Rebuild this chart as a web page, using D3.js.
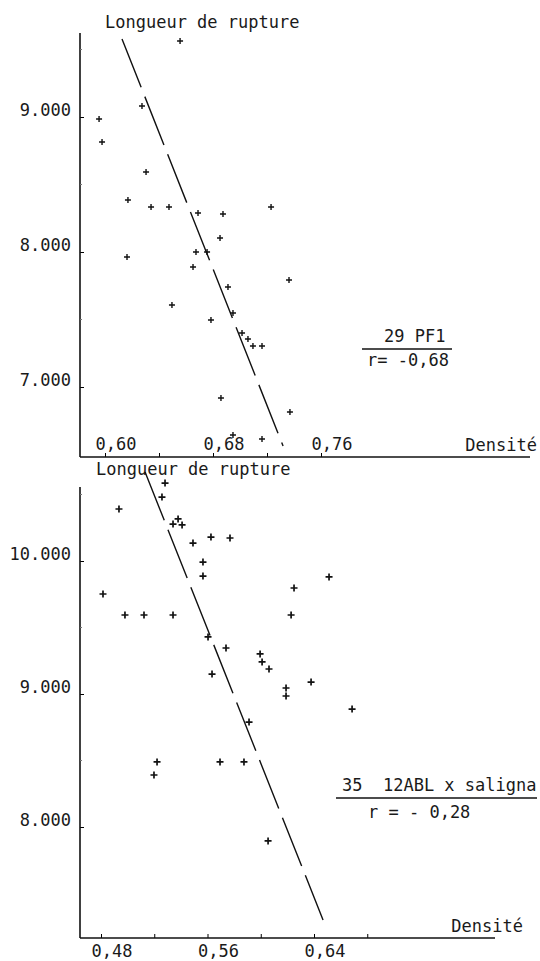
<!DOCTYPE html>
<html>
<head>
<meta charset="utf-8">
<script src="https://cdn.jsdelivr.net/npm/d3@7"></script>
<style>
  body { margin: 0; background: #fff; }
  svg text { font-family: "DejaVu Sans Mono", monospace; fill: #1a1a1a; font-size: 17px; }
</style>
</head>
<body>
<svg id="chart" width="540" height="961"></svg>
<script>
// panel 1 : 29 PF1
const densiteA = [0.6556, 0.6274, 0.5956, 0.5978, 0.6304, 0.6170, 0.6341, 0.6474, 0.6689, 0.6874,
  0.7230, 0.6852, 0.6163, 0.6674, 0.6756, 0.6652, 0.6911, 0.7363, 0.6496, 0.6948,
  0.6785, 0.7015, 0.7059, 0.7096, 0.7163, 0.6859, 0.7370, 0.7163, 0.6948];
const longueurA = [9563, 9081, 8985, 8815, 8593, 8385, 8333, 8333, 8289, 8281,
  8333, 8104, 7963, 8000, 8000, 7889, 7741, 7793, 7607, 7548,
  7496, 7400, 7356, 7304, 7304, 6919, 6815, 6615, 6644];
const droiteA = [[0.6126, 9578], [0.7319, 6563]];
const xTicksA = [0.60, 0.64, 0.68, 0.72, 0.76];
const xLabelsA = ["0,60", "", "0,68", "", "0,76"];
const yTicksA = [7000, 8000, 9000];
const yLabelsA = ["7.000", "8.000", "9.000"];

// panel 2 : 35 12ABL x saligna
const densiteB = [0.5281, 0.5258, 0.4935, 0.5341, 0.5379, 0.5409, 0.5491, 0.5626, 0.5769, 0.5566,
  0.5566, 0.4815, 0.4980, 0.5123, 0.5341, 0.5604, 0.5739, 0.5995, 0.6010, 0.6062,
  0.5634, 0.5912, 0.6513, 0.6250, 0.6228, 0.6378, 0.6190, 0.6190, 0.6686, 0.5694,
  0.5874, 0.6055, 0.5221, 0.5198];
const longueurB = [10586, 10481, 10391, 10278, 10316, 10271, 10135, 10180, 10173, 9992,
  9887, 9752, 9594, 9594, 9594, 9429, 9346, 9301, 9241, 9188,
  9150, 8789, 9880, 9797, 9594, 9090, 9045, 8985, 8887, 8489,
  8489, 7895, 8489, 8391];
const droiteB = [[0.5131, 10669], [0.6468, 7301]];
const xTicksB = [0.48, 0.52, 0.56, 0.60, 0.64, 0.68];
const xLabelsB = ["0,48", "", "0,56", "", "0,64", ""];
const yTicksB = [8000, 9000, 10000];
const yLabelsB = ["8.000", "9.000", "10.000"];

const svg = d3.select("#chart");

function drawPanel(cfg) {
  const x = d3.scaleLinear().domain(cfg.xDomain).range(cfg.xRange);
  const y = d3.scaleLinear().domain(cfg.yDomain).range(cfg.yRange);
  const g = svg.append("g");

  // y axis, ticks inside
  const yAxis = d3.axisRight(y)
      .tickValues(cfg.yTicks)
      .tickFormat("")
      .tickSize(4)
      .tickSizeOuter(0);
  g.append("g")
      .attr("transform", `translate(${cfg.axisX},0)`)
      .call(yAxis)
      .call(a => a.select(".domain").remove());
  g.append("line")
      .attr("x1", cfg.axisX).attr("x2", cfg.axisX)
      .attr("y1", cfg.yTop).attr("y2", cfg.axisY)
      .attr("stroke", "#111").attr("stroke-width", 1.6);
  // faint half ticks
  g.selectAll(".minor")
    .data(cfg.yTicks.map(d => d + 500))
    .join("line")
      .attr("x1", cfg.axisX).attr("x2", cfg.axisX + 2)
      .attr("y1", d => y(d)).attr("y2", d => y(d))
      .attr("stroke", "#777");
  g.selectAll(".ylab")
    .data(cfg.yTicks)
    .join("text")
      .attr("x", cfg.axisX - 9)
      .attr("y", d => y(d) - 1)
      .attr("text-anchor", "end")
      .text((d, i) => cfg.yLabels[i]);

  // x axis
  const xAxis = d3.axisTop(x)
      .tickValues(cfg.xTicks)
      .tickFormat("")
      .tickSize(4)
      .tickSizeOuter(0);
  g.append("g")
      .attr("transform", `translate(0,${cfg.axisY})`)
      .call(xAxis)
      .call(a => a.select(".domain").remove());
  g.append("line")
      .attr("x1", cfg.axisX).attr("x2", cfg.xEnd)
      .attr("y1", cfg.axisY).attr("y2", cfg.axisY)
      .attr("stroke", "#111").attr("stroke-width", 1.6);
  g.selectAll(".xlab")
    .data(cfg.xTicks)
    .join("text")
      .attr("x", d => x(d) + 11)
      .attr("y", cfg.axisY + cfg.xLabelDy)
      .attr("text-anchor", "middle")
      .text((d, i) => cfg.xLabels[i]);

  g.append("text")
      .attr("x", cfg.densiteX).attr("y", cfg.densiteY)
      .attr("text-anchor", "end")
      .text("Densité");

  g.append("text")
      .attr("x", cfg.titleX).attr("y", cfg.titleY)
      .text("Longueur de rupture");

  // regression line, long dashes
  g.append("path")
      .datum(cfg.droite)
      .attr("d", d3.line().x(d => x(d[0])).y(d => y(d[1])))
      .attr("fill", "none")
      .attr("stroke", "#111")
      .attr("stroke-width", 1.4)
      .attr("stroke-dasharray", "52,10");

  // points as "+"
  const s = cfg.cross;
  g.selectAll(".pt")
    .data(cfg.dens.map((d, i) => [d, cfg.long[i]]))
    .join("path")
      .attr("transform", d => `translate(${x(d[0])},${y(d[1])})`)
      .attr("d", `M${-s},0H${s}M0,${-s}V${s}`)
      .attr("stroke", "#111")
      .attr("stroke-width", cfg.crossW);

  return { x, y };
}

drawPanel({
  dens: densiteA, long: longueurA, droite: droiteA,
  xDomain: [0.60, 0.76], xRange: [105, 321],
  yDomain: [7000, 9000], yRange: [387, 117],
  xTicks: xTicksA, xLabels: xLabelsA, yTicks: yTicksA, yLabels: yLabelsA,
  axisX: 80, axisY: 457, yTop: 33, xEnd: 530, xLabelDy: -7,
  densiteX: 537, densiteY: 451, titleX: 105, titleY: 28,
  cross: 3, crossW: 1.4
});

drawPanel({
  dens: densiteB, long: longueurB, droite: droiteB,
  xDomain: [0.48, 0.64], xRange: [101, 314],
  yDomain: [8000, 10000], yRange: [827, 561],
  xTicks: xTicksB, xLabels: xLabelsB, yTicks: yTicksB, yLabels: yLabelsB,
  axisX: 80, axisY: 938, yTop: 487, xEnd: 495, xLabelDy: 19,
  densiteX: 523, densiteY: 932, titleX: 96, titleY: 475,
  cross: 3.5, crossW: 1.7
});

// annotations
const notes = svg.append("g");
notes.append("text").attr("x", 384).attr("y", 342).text("29 PF1");
notes.append("line").attr("x1", 362).attr("x2", 452).attr("y1", 349).attr("y2", 349)
    .attr("stroke", "#111").attr("stroke-width", 1.4);
notes.append("text").attr("x", 367).attr("y", 366).text("r= -0,68");

notes.append("text").attr("x", 342).attr("y", 791).attr("xml:space", "preserve").text("35  12ABL x saligna");
notes.append("line").attr("x1", 336).attr("x2", 537).attr("y1", 798).attr("y2", 798)
    .attr("stroke", "#111").attr("stroke-width", 1.4);
notes.append("text").attr("x", 368).attr("y", 818).attr("xml:space", "preserve").text("r = - 0,28");
</script>
</body>
</html>
